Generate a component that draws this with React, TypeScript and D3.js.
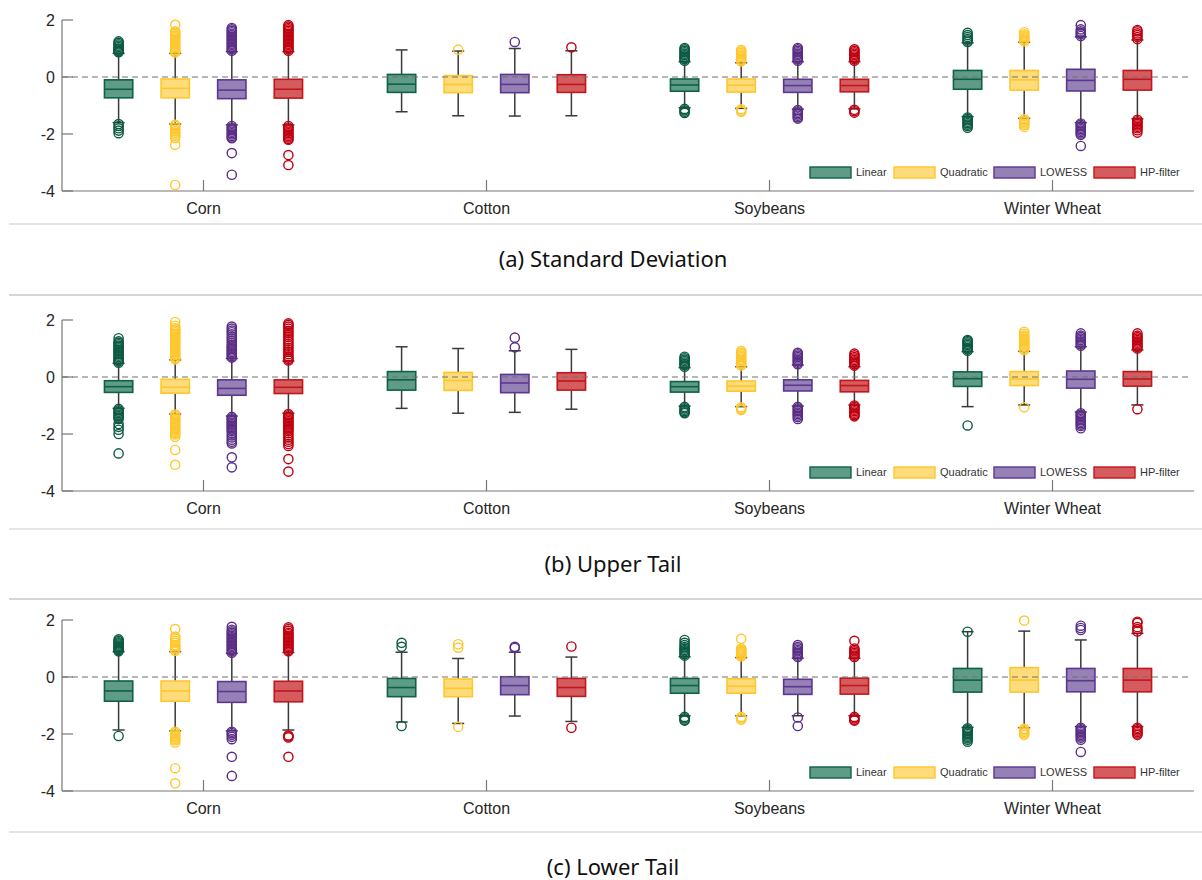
import React from "react";
import * as d3 from "d3";

const categories = ["Corn", "Cotton", "Soybeans", "Winter Wheat"];
const methods = ["Linear", "Quadratic", "LOWESS", "HP-filter"];
const panelTitles = ["(a) Standard Deviation", "(b) Upper Tail", "(c) Lower Tail"];
const yTicks = [2, 0, -2, -4];

const fillColors = ["#5e9c88", "#fedc7b", "#9581b5", "#d55c5e"];
const strokeColors = ["#0f6048", "#fec72e", "#5c3790", "#c3161c"];
const outlierColors = ["#0b5a43", "#ffc72c", "#5a2d86", "#c00010"];

// [lowWhisker, q1, median, q3, highWhisker] per crop per method
const statsSD = [
  [[-1.6, -0.73, -0.43, -0.1, 0.83], [-1.65, -0.73, -0.4, -0.07, 0.83], [-1.68, -0.76, -0.46, -0.1, 0.89], [-1.68, -0.74, -0.43, -0.08, 0.89]],
  [[-1.22, -0.54, -0.25, 0.09, 0.95], [-1.36, -0.55, -0.26, 0.05, 0.91], [-1.37, -0.55, -0.26, 0.09, 1.0], [-1.36, -0.54, -0.26, 0.08, 0.92]],
  [[-1.08, -0.5, -0.28, -0.07, 0.54], [-1.1, -0.53, -0.29, -0.07, 0.5], [-1.13, -0.54, -0.3, -0.08, 0.54], [-1.12, -0.52, -0.3, -0.08, 0.54]],
  [[-1.39, -0.43, -0.08, 0.23, 1.2], [-1.45, -0.46, -0.1, 0.23, 1.22], [-1.6, -0.49, -0.12, 0.27, 1.41], [-1.47, -0.46, -0.08, 0.23, 1.3]],
];
const statsUpper = [
  [[-1.1, -0.54, -0.34, -0.13, 0.48], [-1.3, -0.57, -0.36, -0.08, 0.6], [-1.37, -0.64, -0.4, -0.1, 0.65], [-1.27, -0.58, -0.36, -0.1, 0.56]],
  [[-1.1, -0.46, -0.1, 0.19, 1.06], [-1.27, -0.47, -0.12, 0.16, 1.0], [-1.24, -0.55, -0.21, 0.09, 0.92], [-1.13, -0.46, -0.14, 0.15, 0.97]],
  [[-1.02, -0.53, -0.34, -0.16, 0.33], [-1.04, -0.5, -0.32, -0.14, 0.36], [-1.02, -0.49, -0.29, -0.1, 0.42], [-0.98, -0.52, -0.3, -0.12, 0.36]],
  [[-1.04, -0.33, -0.06, 0.18, 0.89], [-0.98, -0.3, -0.07, 0.19, 0.9], [-1.23, -0.39, -0.08, 0.21, 1.06], [-0.98, -0.32, -0.07, 0.19, 0.95]],
];
const statsLower = [
  [[-1.86, -0.85, -0.49, -0.14, 0.89], [-1.89, -0.85, -0.49, -0.14, 0.89], [-1.89, -0.89, -0.51, -0.16, 0.83], [-1.86, -0.87, -0.49, -0.15, 0.86]],
  [[-1.58, -0.69, -0.37, -0.05, 0.87], [-1.63, -0.69, -0.4, -0.07, 0.65], [-1.37, -0.62, -0.3, 0.01, 0.87], [-1.56, -0.68, -0.37, -0.05, 0.7]],
  [[-1.36, -0.57, -0.3, -0.05, 0.71], [-1.36, -0.57, -0.32, -0.06, 0.68], [-1.36, -0.61, -0.34, -0.08, 0.66], [-1.36, -0.6, -0.3, -0.04, 0.66]],
  [[-1.77, -0.53, -0.11, 0.3, 1.59], [-1.78, -0.53, -0.11, 0.33, 1.61], [-1.74, -0.52, -0.13, 0.3, 1.3], [-1.74, -0.52, -0.11, 0.3, 1.53]],
];

// outliers per crop per method
const outliersSD = [
  [
    [0.87, 0.9, 0.93, 0.97, 1.0, 1.05, 1.1, 1.15, 1.2, 1.25, -1.65, -1.72, -1.8, -1.88, -1.97],
    [0.86, 0.9, 0.95, 1.0, 1.05, 1.1, 1.15, 1.2, 1.25, 1.3, 1.35, 1.4, 1.45, 1.5, 1.55, 1.6, 1.83, -1.68, -1.72, -1.78, -1.84, -1.9, -1.96, -2.02, -2.08, -2.14, -2.38, -3.79],
    [0.92, 0.97, 1.02, 1.07, 1.12, 1.17, 1.22, 1.27, 1.32, 1.37, 1.42, 1.47, 1.52, 1.57, 1.62, 1.67, 1.72, -1.72, -1.77, -1.82, -1.87, -1.92, -1.97, -2.02, -2.07, -2.12, -2.15, -2.67, -3.43],
    [0.92, 0.97, 1.02, 1.07, 1.12, 1.17, 1.22, 1.27, 1.32, 1.37, 1.42, 1.47, 1.52, 1.57, 1.62, 1.67, 1.72, 1.77, 1.82, -1.72, -1.77, -1.82, -1.87, -1.92, -1.97, -2.02, -2.07, -2.12, -2.17, -2.2, -2.74, -3.09],
  ],
  [[], [0.96], [1.23], [1.04]],
  [
    [0.57, 0.62, 0.67, 0.72, 0.77, 0.82, 0.87, 0.92, 0.97, 1.02, -1.12, -1.17, -1.22, -1.26],
    [0.55, 0.6, 0.65, 0.7, 0.75, 0.8, 0.85, 0.9, 0.95, -1.13, -1.18, -1.22],
    [0.57, 0.62, 0.67, 0.72, 0.77, 0.82, 0.87, 0.92, 0.97, 1.02, -1.16, -1.21, -1.26, -1.31, -1.36, -1.41, -1.46],
    [0.57, 0.62, 0.67, 0.72, 0.77, 0.82, 0.87, 0.92, 0.97, -1.15, -1.2, -1.25],
  ],
  [
    [1.23, 1.28, 1.33, 1.4, 1.47, 1.55, -1.42, -1.47, -1.52, -1.57, -1.62, -1.67, -1.72, -1.78],
    [1.25, 1.3, 1.35, 1.4, 1.45, 1.5, 1.57, -1.48, -1.53, -1.58, -1.63, -1.68, -1.75],
    [1.44, 1.5, 1.55, 1.6, 1.67, 1.82, -1.63, -1.68, -1.73, -1.78, -1.83, -1.88, -1.93, -1.98, -2.03, -2.42],
    [1.33, 1.4, 1.47, 1.53, 1.6, 1.65, -1.5, -1.55, -1.6, -1.65, -1.7, -1.75, -1.8, -1.87, -1.95],
  ],
];
const outliersUpper = [
  [
    [0.5, 0.55, 0.6, 0.65, 0.7, 0.75, 0.8, 0.85, 0.9, 0.95, 1.0, 1.05, 1.1, 1.15, 1.2, 1.25, 1.36, -1.12, -1.17, -1.22, -1.27, -1.32, -1.37, -1.42, -1.47, -1.65, -1.75, -1.85, -2.0, -2.68],
    [0.62, 0.67, 0.72, 0.77, 0.82, 0.87, 0.92, 0.97, 1.02, 1.07, 1.12, 1.17, 1.22, 1.27, 1.32, 1.37, 1.42, 1.47, 1.52, 1.57, 1.62, 1.67, 1.72, 1.8, 1.93, -1.32, -1.37, -1.42, -1.47, -1.52, -1.57, -1.62, -1.67, -1.72, -1.77, -1.82, -1.87, -1.92, -1.97, -2.02, -2.1, -2.56, -3.08],
    [0.68, 0.73, 0.78, 0.83, 0.88, 0.93, 0.98, 1.03, 1.08, 1.13, 1.2, 1.27, 1.35, 1.42, 1.5, 1.57, 1.63, 1.7, 1.77, -1.4, -1.45, -1.5, -1.55, -1.6, -1.65, -1.7, -1.75, -1.8, -1.85, -1.9, -1.97, -2.05, -2.12, -2.2, -2.27, -2.33, -2.82, -3.17],
    [0.58, 0.63, 0.68, 0.73, 0.8, 0.88, 0.95, 1.02, 1.1, 1.17, 1.25, 1.32, 1.4, 1.47, 1.55, 1.62, 1.7, 1.77, 1.83, 1.88, -1.3, -1.35, -1.4, -1.45, -1.5, -1.55, -1.6, -1.65, -1.7, -1.75, -1.8, -1.85, -1.9, -1.97, -2.05, -2.12, -2.2, -2.27, -2.35, -2.42, -2.88, -3.32],
  ],
  [[], [], [1.04, 1.38], []],
  [
    [0.36, 0.41, 0.46, 0.51, 0.56, 0.61, 0.66, 0.71, -1.05, -1.1, -1.15, -1.2, -1.24, -1.27],
    [0.4, 0.45, 0.5, 0.55, 0.6, 0.65, 0.7, 0.75, 0.8, 0.85, 0.91, -1.06, -1.11, -1.16],
    [0.45, 0.5, 0.55, 0.6, 0.65, 0.7, 0.75, 0.8, 0.85, -1.05, -1.1, -1.15, -1.2, -1.25, -1.3, -1.35, -1.4, -1.47],
    [0.4, 0.45, 0.5, 0.55, 0.6, 0.65, 0.7, 0.76, 0.82, -1.0, -1.05, -1.1, -1.15, -1.2, -1.25, -1.3, -1.34, -1.38],
  ],
  [
    [0.92, 0.97, 1.02, 1.07, 1.12, 1.17, 1.22, 1.26, 1.3, -1.7],
    [0.95, 1.0, 1.05, 1.1, 1.15, 1.2, 1.25, 1.3, 1.35, 1.4, 1.45, 1.52, 1.59, -1.06],
    [1.1, 1.15, 1.2, 1.25, 1.3, 1.35, 1.4, 1.45, 1.53, -1.27, -1.32, -1.37, -1.42, -1.47, -1.52, -1.57, -1.62, -1.67, -1.72, -1.8],
    [1.0, 1.05, 1.1, 1.15, 1.2, 1.25, 1.3, 1.35, 1.4, 1.45, 1.53, -1.13],
  ],
];
const outliersLower = [
  [
    [0.9, 0.94, 0.98, 1.02, 1.06, 1.1, 1.14, 1.18, 1.22, 1.27, 1.32, -2.07],
    [0.92, 0.97, 1.02, 1.07, 1.12, 1.2, 1.27, 1.35, 1.42, 1.68, -1.92, -1.97, -2.02, -2.07, -2.12, -2.17, -2.22, -2.3, -3.2, -3.73],
    [0.85, 0.9, 0.95, 1.0, 1.05, 1.1, 1.15, 1.2, 1.25, 1.3, 1.35, 1.4, 1.45, 1.5, 1.55, 1.6, 1.66, 1.76, -1.92, -1.97, -2.03, -2.1, -2.18, -2.8, -3.47],
    [0.9, 0.95, 1.0, 1.05, 1.1, 1.15, 1.2, 1.25, 1.3, 1.35, 1.4, 1.45, 1.5, 1.55, 1.62, 1.68, 1.74, -2.05, -2.08, -2.12, -2.8],
  ],
  [
    [1.06, 1.2, -1.72],
    [1.03, 1.15, -1.75],
    [1.02, 1.06],
    [1.07, -1.78],
  ],
  [
    [0.75, 0.8, 0.85, 0.9, 0.95, 1.0, 1.05, 1.12, 1.2, 1.3, -1.4, -1.45, -1.5, -1.53],
    [0.72, 0.76, 0.8, 0.84, 0.88, 0.92, 0.96, 1.0, 1.34, -1.4, -1.45, -1.5],
    [0.7, 0.75, 0.8, 0.85, 0.9, 0.95, 1.0, 1.05, 1.12, -1.42, -1.72],
    [0.7, 0.75, 0.8, 0.85, 0.9, 0.95, 1.0, 1.27, -1.4, -1.45, -1.5, -1.53],
  ],
  [
    [1.59, -1.8, -1.85, -1.9, -1.95, -2.0, -2.05, -2.1, -2.15, -2.2, -2.27],
    [1.98, -1.82, -1.87, -1.92, -1.97, -2.03],
    [1.65, 1.72, 1.8, -1.78, -1.83, -1.88, -1.93, -1.98, -2.03, -2.08, -2.13, -2.2, -2.63],
    [1.6, 1.68, 1.75, 1.9, 1.94, -1.78, -1.83, -1.88, -1.93, -1.98, -2.03],
  ],
];

const panelStats = [statsSD, statsUpper, statsLower];
const panelOutliers = [outliersSD, outliersUpper, outliersLower];
const panelTops = [0, 300, 600];
const sepLinesBelow = [224, 529, 832];
const sepLinesAbove = [null, 295, 599];
const titleY = [259, 564, 867];
const legendX = [810, 894, 994, 1094];

const tickFont = "'Liberation Sans', Arial, Helvetica, sans-serif";
const titleFont = "'Noto Sans', 'Open Sans', sans-serif";

function Panel({ idx }: { idx: number }) {
  const top = panelTops[idx];
  const y = d3.scaleLinear().domain([-4, 2]).range([top + 191, top + 20]);
  const x = d3.scaleBand().domain(categories).range([62, 1194]).padding(0);
  const bw = x.bandwidth();
  const xm = d3.scalePoint().domain(methods).range([bw * 0.2, bw * 0.8]);
  const boxW = bw * 0.1;
  const capW = 12;
  const stats = panelStats[idx];
  const outs = panelOutliers[idx];
  return (
    <g>
      {/* y axis */}
      <line x1={62} x2={62} y1={y(2)} y2={y(-4)} stroke="#777" strokeWidth={1.2} />
      {yTicks.map((t) => (
        <g key={t}>
          <line x1={62} x2={73} y1={y(t)} y2={y(t)} stroke="#777" strokeWidth={1.2} />
          <text x={55} y={y(t)} dy="0.35em" textAnchor="end" fontFamily={tickFont} fontSize={16} fill="#262626">
            {String(t)}
          </text>
        </g>
      ))}
      {/* x axis */}
      <line x1={62} x2={1194} y1={y(-4)} y2={y(-4)} stroke="#777" strokeWidth={1.2} />
      {categories.map((c) => {
        const cx = (x(c) as number) + bw / 2;
        return (
          <g key={c}>
            <line x1={cx} x2={cx} y1={y(-4)} y2={y(-4) - 11} stroke="#777" strokeWidth={1.2} />
            <text x={cx} y={y(-4) + 17} dy="0.35em" textAnchor="middle" fontFamily={tickFont} fontSize={16} fill="#262626">
              {c}
            </text>
          </g>
        );
      })}
      {/* boxes */}
      {categories.map((c, ci) =>
        methods.map((m, mi) => {
          const cx = (x(c) as number) + (xm(m) as number);
          const [lo, q1, med, q3, hi] = stats[ci][mi];
          return (
            <g key={c + m}>
              <line x1={cx} x2={cx} y1={y(hi)} y2={y(q3)} stroke="#3a3a3a" strokeWidth={1.5} />
              <line x1={cx} x2={cx} y1={y(q1)} y2={y(lo)} stroke="#3a3a3a" strokeWidth={1.5} />
              <line x1={cx - capW / 2} x2={cx + capW / 2} y1={y(hi)} y2={y(hi)} stroke="#3a3a3a" strokeWidth={1.5} />
              <line x1={cx - capW / 2} x2={cx + capW / 2} y1={y(lo)} y2={y(lo)} stroke="#3a3a3a" strokeWidth={1.5} />
              {outs[ci][mi].map((v, k) => (
                <circle key={k} cx={cx} cy={y(v)} r={4.6} fill="none" stroke={outlierColors[mi]} strokeWidth={1.4} />
              ))}
              <rect
                x={cx - boxW / 2}
                y={y(q3)}
                width={boxW}
                height={y(q1) - y(q3)}
                fill={fillColors[mi]}
                stroke={strokeColors[mi]}
                strokeWidth={1.6}
              />
              <line x1={cx - boxW / 2} x2={cx + boxW / 2} y1={y(med)} y2={y(med)} stroke={strokeColors[mi]} strokeWidth={1.6} />
            </g>
          );
        })
      )}
      {/* zero line */}
      <line x1={62} x2={1192} y1={y(0)} y2={y(0)} stroke="#707070" strokeWidth={1.1} strokeDasharray="6,4" />
      {/* legend */}
      {methods.map((m, mi) => (
        <g key={m}>
          <rect x={legendX[mi]} y={top + 167} width={41} height={11} fill={fillColors[mi]} stroke={strokeColors[mi]} strokeWidth={1.4} />
          <text x={legendX[mi] + 46} y={top + 172.5} dy="0.35em" fontFamily={tickFont} fontSize={11} fill="#333">
            {m}
          </text>
        </g>
      ))}
      {/* separators and title */}
      {sepLinesAbove[idx] !== null && (
        <line x1={9} x2={1202} y1={sepLinesAbove[idx] as number} y2={sepLinesAbove[idx] as number} stroke="#c9c9c9" strokeWidth={1.3} />
      )}
      <line x1={9} x2={1202} y1={sepLinesBelow[idx]} y2={sepLinesBelow[idx]} stroke="#dcdcdc" strokeWidth={1.3} />
      <text x={613} y={titleY[idx]} dy="0.35em" textAnchor="middle" fontFamily={titleFont} fontSize={22} fill="#111">
        {panelTitles[idx]}
      </text>
    </g>
  );
}

export default function App() {
  return (
    <svg width={1202} height={880} style={{ position: "absolute", left: 0, top: 0, background: "#fff" }}>
      <rect width={1202} height={880} fill="#fff" />
      {[0, 1, 2].map((i) => (
        <Panel key={i} idx={i} />
      ))}
    </svg>
  );
}
